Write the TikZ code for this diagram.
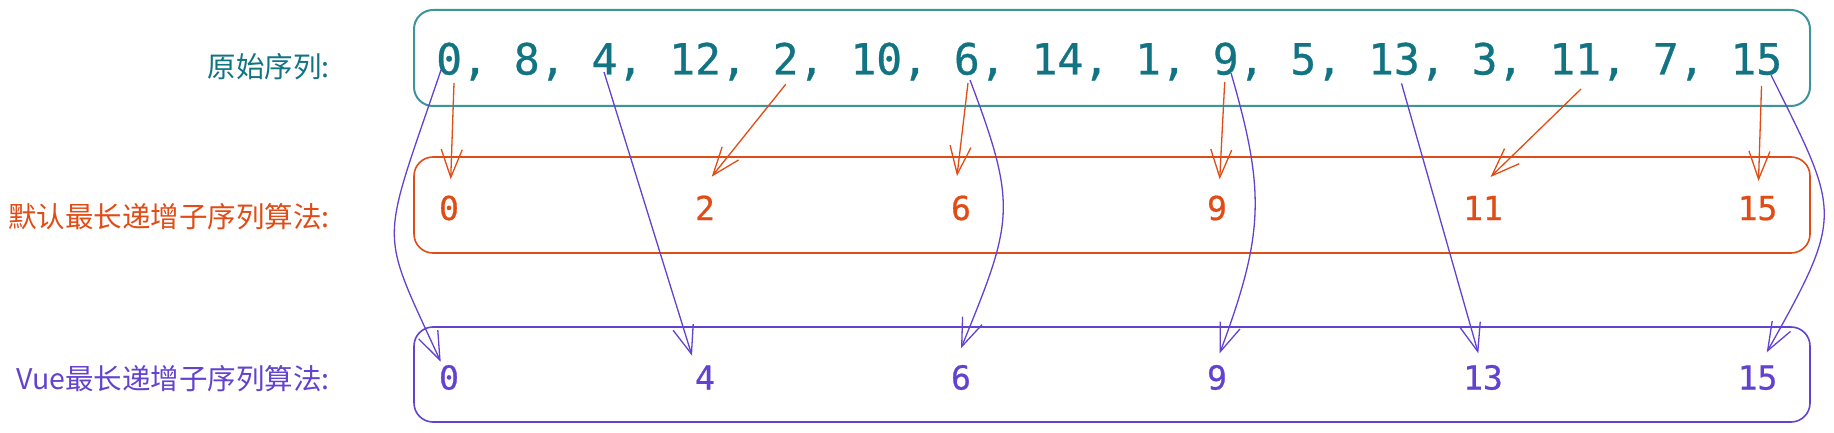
\documentclass[tikz,border=0pt]{standalone}
\usepackage{fontspec}
\newfontfamily\numfont{DejaVu Sans Mono}[FakeBold=0.7]
\newfontfamily\cjkfont{Noto Sans CJK SC}
\usetikzlibrary{arrows.meta}
\definecolor{tealtxt}{RGB}{18,115,131}
\definecolor{tealbox}{RGB}{62,148,156}
\definecolor{orangec}{RGB}{224,76,22}
\definecolor{purplec}{RGB}{98,66,206}
\begin{document}
\begin{tikzpicture}[x=1pt,y=-1pt,
  seqbox/.style={rounded corners=19pt, minimum width=1396pt, inner sep=0pt, outer sep=0pt},
  lab/.style={anchor=base east, inner sep=0pt, font=\cjkfont\fontsize{28.5}{31}\selectfont},
  bignum/.style={anchor=base west, inner sep=0pt, text=tealtxt, font=\numfont\fontsize{43}{45}\selectfont},
  onum/.style={anchor=base, inner sep=0pt, text=orangec, font=\numfont\fontsize{33}{35}\selectfont},
  pnum/.style={anchor=base, inner sep=0pt, text=purplec, font=\numfont\fontsize{33}{35}\selectfont},
  oarrow/.style={draw=orangec, line width=1.3pt, -{Straight Barb[length=28pt,width=21pt]}},
  parrow/.style={draw=purplec, line width=1.3pt, -{Straight Barb[length=28pt,width=21pt]}}]
\useasboundingbox (0,0) rectangle (1834,433);

% boxes
\node[seqbox, draw=tealbox, line width=2pt, minimum height=96pt] (topbox) at (1112,58) {};
\node[seqbox, draw=orangec, line width=1.6pt, minimum height=96pt] (obox) at (1112,205) {};
\node[seqbox, draw=purplec, line width=1.6pt, minimum height=95pt] (pbox) at (1112,374.5) {};

% labels
\node[lab, text=tealtxt] (lab1) at (330,78) {原始序列:};
\node[lab, text=orangec] (lab2) at (330,227.5) {默认最长递增子序列算法:};
\node[lab, text=purplec] (lab3) at (330,389.5) {Vue最长递增子序列算法:};

% original sequence
\node[bignum] (seq) at (436,74.5) {0, 8, 4, 12, 2, 10, 6, 14, 1, 9, 5, 13, 3, 11, 7, 15};

% default LIS
\node[onum] (o0) at (449,220) {0};
\node[onum] (o2) at (705,220) {2};
\node[onum] (o6) at (961,220) {6};
\node[onum] (o9) at (1217,220) {9};
\node[onum] (o11) at (1483,220) {11};
\node[onum] (o15) at (1757.5,220) {15};

% Vue LIS
\node[pnum] (p0) at (449,389.5) {0};
\node[pnum] (p4) at (705,389.5) {4};
\node[pnum] (p6) at (961,389.5) {6};
\node[pnum] (p9) at (1217,389.5) {9};
\node[pnum] (p13) at (1483,389.5) {13};
\node[pnum] (p15) at (1757.5,389.5) {15};

% arrow end points
\coordinate (sa0) at (454,83);
\coordinate (sa2) at (785.7,84.3);
\coordinate (sa6) at (968,83);
\coordinate (sa9) at (1224.7,82);
\coordinate (sa11) at (1581,89);
\coordinate (sa15) at (1761.5,86);
\coordinate (ta0) at (450.7,179.3);
\coordinate (ta2) at (711.7,176.7);
\coordinate (ta6) at (957,176);
\coordinate (ta9) at (1219.7,179.3);
\coordinate (ta11) at (1490.5,177);
\coordinate (ta15) at (1758.5,181);

\coordinate (sb0) at (441,70);
\coordinate (sb4) at (604,72);
\coordinate (sb6) at (970,80);
\coordinate (sb9) at (1231,73);
\coordinate (sb13) at (1401.5,83.4);
\coordinate (sb15) at (1771,75);
\coordinate (tb0) at (440.7,361.7);
\coordinate (tb4) at (692,355.7);
\coordinate (tb6) at (961,348.3);
\coordinate (tb9) at (1219.7,353.3);
\coordinate (tb13) at (1478.3,353.3);
\coordinate (tb15) at (1766.7,352.3);

% orange arrows
\draw[oarrow] (sa0) -- (ta0);
\draw[oarrow] (sa2) -- (ta2);
\draw[oarrow] (sa6) -- (ta6);
\draw[oarrow] (sa9) -- (ta9);
\draw[oarrow] (sa11) -- (ta11);
\draw[oarrow] (sa15) -- (ta15);

% purple arrows
\draw[parrow] (sb0) .. controls (380,250) and (378,225) .. (tb0);
\draw[parrow] (sb4) -- (tb4);
\draw[parrow] (sb6) .. controls (1018,207) and (1013,221) .. (tb6);
\draw[parrow] (sb9) .. controls (1265.5,192) and (1264,234) .. (tb9);
\draw[parrow] (sb13) -- (tb13);
\draw[parrow] (sb15) .. controls (1840,214) and (1845,213) .. (tb15);
\end{tikzpicture}
\end{document}
